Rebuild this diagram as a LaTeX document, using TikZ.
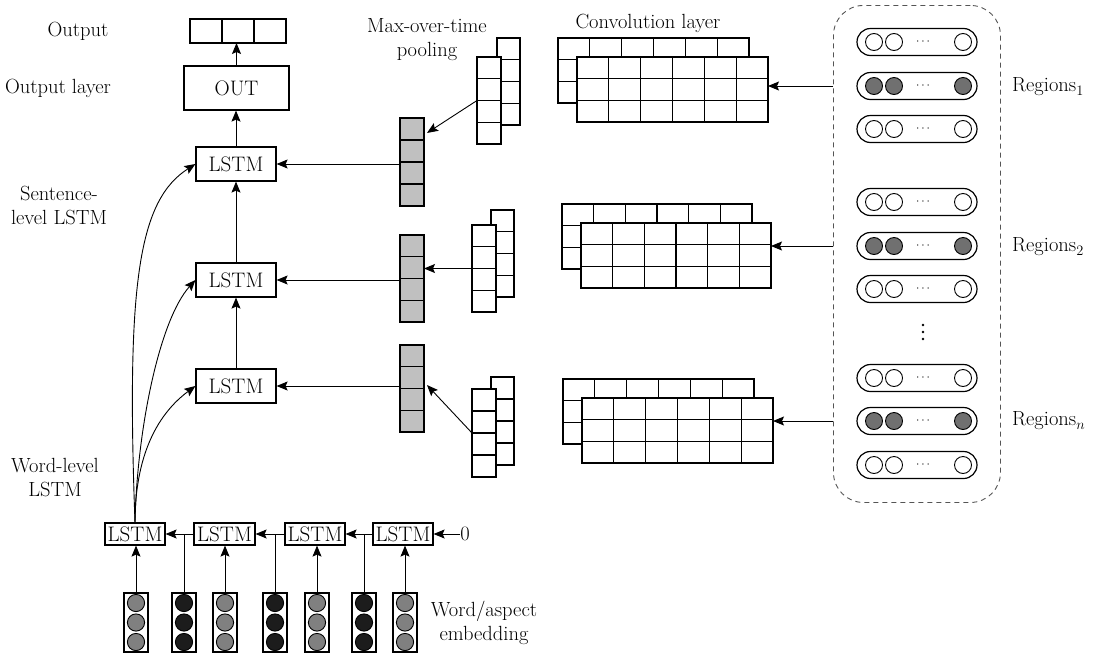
\documentclass[tikz,border=0pt]{standalone}
\usetikzlibrary{arrows.meta,calc,shapes.misc}
\definecolor{vecgray}{HTML}{C0C0C0}
\definecolor{embgray}{HTML}{808080}
\definecolor{embblack}{HTML}{1C1C1C}
\definecolor{reggray}{HTML}{707070}
\definecolor{dashgray}{HTML}{555555}
\newcommand\mygrid[8]{%
  \node[cellbox,fill=#8,anchor=north west,minimum width={#4pt-#2pt},minimum height={#5pt-#3pt}] (#1) at (#2,#3) {};
  \pgfmathtruncatemacro\mycols{#6-1}%
  \pgfmathtruncatemacro\myrows{#7-1}%
  \ifnum\mycols>0 \foreach \i in {1,...,\mycols} {\draw[cellline] ({#2+\i*(#4-#2)/#6},#3) -- ({#2+\i*(#4-#2)/#6},#5);}\fi
  \ifnum\myrows>0 \foreach \j in {1,...,\myrows} {\draw[cellline] (#2,{#3+\j*(#5-#3)/#7}) -- (#4,{#3+\j*(#5-#3)/#7});}\fi
}
\newcommand\mypill[3]{% name, y, fill
  \node[pill] (#1) at (917,#2) {};
  \draw[line width=0.9pt,fill=#3] (874,#2) circle (8.5);
  \draw[line width=0.9pt,fill=#3] (894,#2) circle (8.5);
  \draw[line width=0.9pt,fill=#3] (963,#2) circle (8.5);
  \node[font=\fontsize{13}{13}\selectfont,inner sep=0pt] at (923,#2) {$\cdots$};
}
\newcommand\myemb[3]{% name, x, fill
  \node[embbox] (#1) at (#2,622.5) {};
  \foreach \k in {603,622.5,642} {\draw[line width=0.9pt,fill=#3] (#2,\k) circle (8.6);}
}
\begin{document}
\begin{tikzpicture}[x=1pt,y=-1pt,
  box/.style={draw,line width=1.2pt,inner sep=0pt,fill=white,font=\fontsize{21}{24}\selectfont},
  lbl/.style={font=\fontsize{20.5}{24}\selectfont,align=center,inner sep=0pt},
  arr/.style={line width=0.9pt,-{Stealth[length=11pt,width=9pt,inset=2pt]}},
  ln/.style={line width=0.9pt},
  cellbox/.style={draw,line width=1.2pt,inner sep=0pt,outer sep=0pt},
  cellline/.style={line width=1.2pt},
  pill/.style={draw,rounded rectangle,line width=1.2pt,minimum width=120pt,minimum height=27pt,inner sep=0pt},
  embbox/.style={draw,line width=1.2pt,minimum width=24pt,minimum height=59pt,inner sep=0pt,fill=white}
]
\useasboundingbox (0,0) rectangle (1094,656);

% ---------- labels ----------
\node[lbl] (lOut) at (78,31) {Output};
\node[lbl] (lOutL) at (58,88) {Output layer};
\node[lbl] (lSent) at (59,205) {Sentence-\\level LSTM};
\node[lbl] (lWord) at (55,478) {Word-level\\LSTM};
\node[lbl] (lMax) at (427,40) {Max-over-time\\pooling};
\node[lbl] (lConv) at (648,23) {Convolution layer};
\node[lbl] (lEmb) at (484,623) {Word/aspect\\embedding};

% ---------- output side ----------
\mygrid{outvec}{190}{19}{286}{43}{3}{1}{white}
\node[box,minimum width=105pt,minimum height=44pt] (out) at (236.5,88) {OUT};
\node[box,minimum width=80pt,minimum height=34pt] (s3) at (236,164) {LSTM};
\node[box,minimum width=80pt,minimum height=34pt] (s2) at (236,280) {LSTM};
\node[box,minimum width=80pt,minimum height=34pt] (s1) at (236,386) {LSTM};
\draw[arr] (out.north) -- (out.north |- outvec.south);
\draw[arr] (s3.north) -- (s3.north |- out.south);
\draw[arr] (s2.north) -- (s3.south);
\draw[arr] (s1.north) -- (s2.south);

% ---------- word level ----------
\node[box,minimum width=60pt,minimum height=22pt] (w1) at (135,534) {LSTM};
\node[box,minimum width=61pt,minimum height=22pt] (w2) at (224.5,534) {LSTM};
\node[box,minimum width=60pt,minimum height=22pt] (w3) at (315,534) {LSTM};
\node[box,minimum width=60pt,minimum height=22pt] (w4) at (403,534) {LSTM};
\node[lbl] (zero) at (465,534) {0};
\draw[arr] (zero.west) -- (w4.east);
\draw[arr] (w4.west) -- (w3.east);
\draw[arr] (w3.west) -- (w2.east);
\draw[arr] (w2.west) -- (w1.east);

\myemb{e1}{136}{embgray}
\myemb{e2}{184}{embblack}
\myemb{e3}{225}{embgray}
\myemb{e4}{275}{embblack}
\myemb{e5}{317}{embgray}
\myemb{e6}{364}{embblack}
\myemb{e7}{405}{embgray}
\draw[arr] (e1.north) -- (e1.north |- w1.south);
\draw[arr] (e3.north) -- (e3.north |- w2.south);
\draw[arr] (e5.north) -- (e5.north |- w3.south);
\draw[arr] (e7.north) -- (e7.north |- w4.south);
\draw[ln] (e2.north) -- (e2.north |- w1.east);
\draw[ln] (e4.north) -- (e4.north |- w1.east);
\draw[ln] (e6.north) -- (e6.north |- w1.east);

% curves from word-level LSTM to sentence-level LSTMs
\draw[arr] (w1.north) .. controls +(-9,-243) and +(-56,36) .. (s3.west);
\draw[arr] (w1.north) .. controls +(2,-93) and +(-36,40) .. (s2.west);
\draw[arr] (w1.north) .. controls +(0,-53) and +(-46,34) .. (s1.west);

% ---------- pooled vectors ----------
\mygrid{gT}{400}{118}{424}{206}{1}{4}{vecgray}
\mygrid{gM}{400}{235}{424}{322}{1}{4}{vecgray}
\mygrid{gB}{400}{345}{424}{432}{1}{4}{vecgray}
\draw[arr] (s3.east -| gT.west) -- (s3.east);
\draw[arr] (s2.east -| gM.west) -- (s2.east);
\draw[arr] (s1.east -| gB.west) -- (s1.east);

% ---------- max-over-time pooling maps ----------
\mygrid{pTb}{497}{38}{520}{125}{1}{4}{white}
\mygrid{pTf}{477}{57}{501}{144}{1}{4}{white}
\mygrid{pMb}{491}{210}{514}{297}{1}{4}{white}
\mygrid{pMf}{472}{225}{496}{312}{1}{4}{white}
\mygrid{pBb}{491}{377}{514}{465}{1}{4}{white}
\mygrid{pBf}{472}{389}{496}{477}{1}{4}{white}
\draw[arr] (pTf.west) -- ($(gT.north east)!0.17!(gT.south east)+(3,0)$);
\draw[arr] (pMf.west) -- (pMf.west -| gM.east);
\draw[arr] (pBf.west) -- ($(gB.north east)!0.46!(gB.south east)+(3,0)$);

% ---------- convolution maps ----------
\mygrid{cTb}{558}{38}{749}{103}{6}{3}{white}
\mygrid{cTf}{577}{57}{768}{122}{6}{3}{white}
\mygrid{cMb}{562}{204}{752}{269}{6}{3}{white}
\mygrid{cMf}{581}{223}{771}{288}{6}{3}{white}
\mygrid{cBb}{563}{379}{754}{444}{6}{3}{white}
\mygrid{cBf}{582}{398}{773}{463}{6}{3}{white}

% ---------- regions ----------
\node[draw=dashgray,line width=0.9pt,dash pattern=on 5pt off 4pt,rounded corners=30pt,
      minimum width=167pt,minimum height=497pt,anchor=north west,inner sep=0pt] (regbox) at (833,5) {};
\mypill{r1a}{42}{white}
\mypill{r1b}{86}{reggray}
\mypill{r1c}{129}{white}
\mypill{r2a}{202}{white}
\mypill{r2b}{246}{reggray}
\mypill{r2c}{289}{white}
\mypill{r3a}{378}{white}
\mypill{r3b}{421}{reggray}
\mypill{r3c}{465}{white}
\foreach \d in {325,332,339} {\fill (923,\d) circle (1.3);}

\node[lbl,anchor=west] (reg1) at (1012,87) {Regions$_1$};
\node[lbl,anchor=west] (reg2) at (1012,247) {Regions$_2$};
\node[lbl,anchor=west] (reg3) at (1012,421) {Regions$_n$};

\draw[arr] (regbox.west |- r1b) -- (cTf.east |- r1b);
\draw[arr] (regbox.west |- r2b) -- (cMf.east |- r2b);
\draw[arr] (regbox.west |- r3b) -- (cBf.east |- r3b);
\end{tikzpicture}
\end{document}
